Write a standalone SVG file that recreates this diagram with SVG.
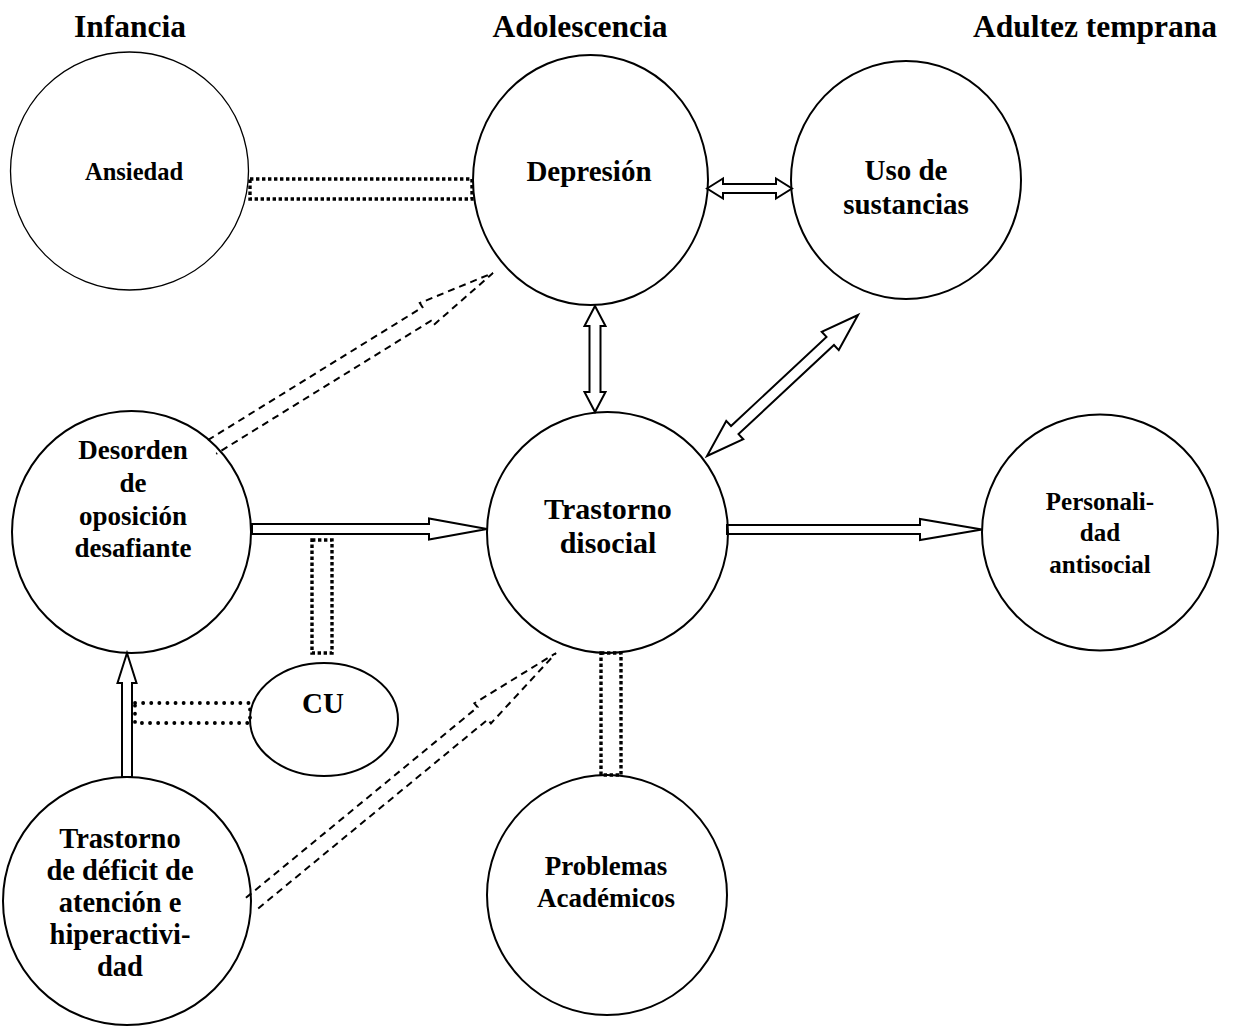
<svg xmlns="http://www.w3.org/2000/svg" width="1236" height="1027" viewBox="0 0 1236 1027">
<style>
.bg{fill:#fff}
.node{fill:none;stroke:#000;stroke-width:2}
.t{font-family:"Liberation Serif","Times New Roman",serif;font-weight:bold;fill:#000;text-anchor:middle}
.hdr{font-size:31.5px}
.hollow{fill:#fff;stroke:#000;stroke-width:2;stroke-linejoin:miter}
.dash{fill:none;stroke:#000;stroke-width:2;stroke-dasharray:7 5}
.sq{fill:none;stroke:#000;stroke-width:3.4;stroke-dasharray:3.4 2.6}
.rd{fill:none;stroke:#000;stroke-width:3.8;stroke-linecap:round;stroke-dasharray:0.1 8}
</style>
<rect class="bg" x="0" y="0" width="1236" height="1027"/>
<g id="headers">
<text class="t hdr" x="130" y="37">Infancia</text>
<text class="t hdr" x="580" y="37">Adolescencia</text>
<text class="t hdr" x="1095" y="37">Adultez temprana</text>
</g>
<g id="connectors">
<rect class="sq" x="250" y="179" width="222" height="20"/>
<polygon class="hollow" points="707,188.5 723,178.5 723,184 776,184 776,178.5 792,188.5 776,198.5 776,193 723,193 723,198.5"/>
<polygon class="hollow" points="595,306 605.5,326 600.5,326 600.5,392 605.5,392 595,412 584.5,392 589.5,392 589.5,326 584.5,326"/>
<polygon class="hollow" points="858,315 838.76,350.08 833.98,344.96 738.52,434.08 743.3,439.2 707,456 726.24,420.92 731.02,426.04 826.48,336.92 821.7,331.8"/>
<path class="dash" d="M207.79,440.2 L422.47,307.27 L419.84,303.02 L493,273 L433.52,325.12 L430.89,320.87 L216.21,453.8"/>
<path class="dash" d="M245.92,897.82 L477.56,707.18 L474.38,703.32 L556,653 L490.9,723.4 L487.72,719.54 L256.08,910.18"/>
<polygon class="hollow" points="252,524 429,524 429,518.5 487,529 429,539.5 429,534 252,534"/>
<polygon class="hollow" points="727,525 920,525 920,519 982,529.5 920,540 920,534 727,534"/>
<polygon class="hollow" points="122,777 122,683 117.5,683 127,653 136.5,683 132,683 132,777"/>
<rect class="sq" x="312" y="540" width="20" height="113"/>
<rect class="sq" x="601" y="653" width="20" height="122"/>
<rect class="rd" x="135" y="703" width="115" height="20"/>
</g>
<g id="n-ansiedad">
<circle cx="129.5" cy="171" r="119" fill="none" stroke="#000" stroke-width="1.3"/>
<text class="t" x="134" y="180" font-size="24.5">Ansiedad</text>
</g>
<g id="n-depresion">
<ellipse class="node" cx="590.5" cy="180" rx="117.5" ry="125"/>
<text class="t" x="589" y="181" font-size="29">Depresión</text>
</g>
<g id="n-sustancias">
<ellipse class="node" cx="906" cy="180" rx="115" ry="119"/>
<text class="t" x="906" y="180" font-size="29">Uso de</text>
<text class="t" x="906" y="214" font-size="29">sustancias</text>
</g>
<g id="n-disocial">
<circle class="node" cx="607.5" cy="532.5" r="120.5"/>
<text class="t" x="608" y="519" font-size="30">Trastorno</text>
<text class="t" x="608" y="553" font-size="30">disocial</text>
</g>
<g id="n-desorden">
<ellipse class="node" cx="131.5" cy="532" rx="119.5" ry="121"/>
<text class="t" x="133" y="459" font-size="27">Desorden</text>
<text class="t" x="133" y="492" font-size="27">de</text>
<text class="t" x="133" y="525" font-size="27">oposición</text>
<text class="t" x="133" y="557" font-size="27">desafiante</text>
</g>
<g id="n-personalidad">
<circle class="node" cx="1100" cy="532.5" r="118"/>
<text class="t" x="1100" y="510" font-size="25">Personali-</text>
<text class="t" x="1100" y="541" font-size="25">dad</text>
<text class="t" x="1100" y="573" font-size="25">antisocial</text>
</g>
<g id="n-cu">
<ellipse class="node" cx="324" cy="719.5" rx="74" ry="56.5"/>
<text class="t" x="323" y="713" font-size="29">CU</text>
</g>
<g id="n-tdah">
<circle class="node" cx="127" cy="901" r="124"/>
<text class="t" x="120" y="848" font-size="28.5">Trastorno</text>
<text class="t" x="120" y="880" font-size="28.5">de déficit de</text>
<text class="t" x="120" y="912" font-size="28.5">atención e</text>
<text class="t" x="120" y="944" font-size="28.5">hiperactivi-</text>
<text class="t" x="120" y="976" font-size="28.5">dad</text>
</g>
<g id="n-problemas">
<circle class="node" cx="607" cy="895" r="120"/>
<text class="t" x="606" y="875" font-size="27">Problemas</text>
<text class="t" x="606" y="907" font-size="27">Académicos</text>
</g>
</svg>
